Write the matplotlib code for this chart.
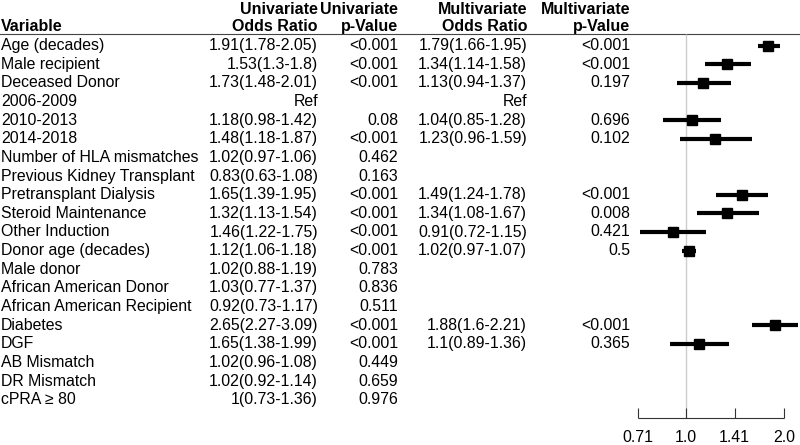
import matplotlib
matplotlib.use("Agg")
import matplotlib.pyplot as plt
import numpy as np

plt.rcParams['font.family'] = ['Liberation Sans', 'DejaVu Sans']

# table content
variables = ["Age (decades)", "Male recipient", "Deceased Donor", "2006-2009",
             "2010-2013", "2014-2018", "Number of HLA mismatches",
             "Previous Kidney Transplant", "Pretransplant Dialysis",
             "Steroid Maintenance", "Other Induction", "Donor age (decades)",
             "Male donor", "African American Donor",
             "African American Recipient", "Diabetes", "DGF", "AB Mismatch",
             "DR Mismatch", "cPRA \u2265 80"]
uni_or = ["1.91(1.78-2.05)", "1.53(1.3-1.8)", "1.73(1.48-2.01)", "Ref",
          "1.18(0.98-1.42)", "1.48(1.18-1.87)", "1.02(0.97-1.06)",
          "0.83(0.63-1.08)", "1.65(1.39-1.95)", "1.32(1.13-1.54)",
          "1.46(1.22-1.75)", "1.12(1.06-1.18)", "1.02(0.88-1.19)",
          "1.03(0.77-1.37)", "0.92(0.73-1.17)", "2.65(2.27-3.09)",
          "1.65(1.38-1.99)", "1.02(0.96-1.08)", "1.02(0.92-1.14)",
          "1(0.73-1.36)"]
uni_p = ["<0.001", "<0.001", "<0.001", "", "0.08", "<0.001", "0.462",
         "0.163", "<0.001", "<0.001", "<0.001", "<0.001", "0.783", "0.836",
         "0.511", "<0.001", "<0.001", "0.449", "0.659", "0.976"]

# multivariate estimates (nan = not in model), row 3 is the reference level
multi_est = [1.79, 1.34, 1.13, np.nan, 1.04, 1.23, np.nan, np.nan, 1.49, 1.34,
             0.91, 1.02, np.nan, np.nan, np.nan, 1.88, 1.1, np.nan, np.nan,
             np.nan]
multi_lo = [1.66, 1.14, 0.94, np.nan, 0.85, 0.96, np.nan, np.nan, 1.24, 1.08,
            0.72, 0.97, np.nan, np.nan, np.nan, 1.6, 0.89, np.nan, np.nan,
            np.nan]
multi_hi = [1.95, 1.58, 1.37, np.nan, 1.28, 1.59, np.nan, np.nan, 1.78, 1.67,
            1.15, 1.07, np.nan, np.nan, np.nan, 2.21, 1.36, np.nan, np.nan,
            np.nan]
multi_p = ["<0.001", "<0.001", "0.197", "", "0.696", "0.102", "", "",
           "<0.001", "0.008", "0.421", "0.5", "", "", "", "<0.001", "0.365",
           "", "", ""]
ref_row = 3

tick_vals = [0.71, 1.0, 1.41, 2.0]
tick_labels = ["0.71", "1.0", "1.41", "2.0"]

FS = 11.4
HFS = 11.5
W, H = 800, 445
ROW0, ROW_H = 45.5, 18.65
X_ONE, PX_PER_LOG2 = 686, 98   # where OR=1 sits, and pixels per doubling
FOREST_LEFT = 620

n = len(variables)
ys = ROW0 + ROW_H * np.arange(n)

fig = plt.figure(figsize=(W / 100, H / 100), dpi=100)
tab = fig.add_axes([0, 0, 1, 1])
tab.set_xlim(0, W)
tab.set_ylim(H, 0)
tab.axis('off')

# headers
cols = [(318, "Univariate", "Odds Ratio"), (398, "Univariate", "p-Value"),
        (527, "Multivariate", "Odds Ratio"), (630, "Multivariate", "p-Value")]
for x, l1, l2 in cols:
    tab.text(x, 14, l1, ha='right', va='baseline', fontsize=HFS,
             fontweight='bold')
    tab.text(x, 31, l2, ha='right', va='baseline', fontsize=HFS,
             fontweight='bold')
tab.text(1, 31, "Variable", ha='left', va='baseline', fontsize=HFS,
         fontweight='bold')
tab.axhline(33.5, color='#444444', lw=0.8)

for i in range(n):
    y = ys[i]
    tab.text(1, y, variables[i], ha='left', va='center', fontsize=FS)
    tab.text(318, y, uni_or[i], ha='right', va='center', fontsize=FS)
    tab.text(398, y, uni_p[i], ha='right', va='center', fontsize=FS)
    if i == ref_row:
        mtxt = "Ref"
    elif np.isnan(multi_est[i]):
        mtxt = ""
    else:
        mtxt = "%g(%g-%g)" % (multi_est[i], multi_lo[i], multi_hi[i])
    tab.text(527, y, mtxt, ha='right', va='center', fontsize=FS)
    tab.text(630, y, multi_p[i], ha='right', va='center', fontsize=FS)

# forest panel on a log2 axis
fa = fig.add_axes([FOREST_LEFT / W, 0, (W - FOREST_LEFT) / W, 1])
fa.patch.set_alpha(0)
fa.set_xscale('log', base=2)
fa.set_xlim(2 ** ((FOREST_LEFT - X_ONE) / PX_PER_LOG2),
            2 ** ((W - X_ONE) / PX_PER_LOG2))
fa.set_ylim(H, 0)
fa.axis('off')

fa.vlines(1.0, 33.5, 418, color='#cccccc', lw=1)
est = np.array(multi_est)
ok = ~np.isnan(est)
fa.hlines(ys[ok], np.array(multi_lo)[ok], np.array(multi_hi)[ok],
          color='black', lw=3)
fa.plot(est[ok], ys[ok], 's', color='black', ms=7.5)

fa.hlines(418, tick_vals[0], tick_vals[-1], color='#333333', lw=0.8)
fa.vlines(tick_vals, 408, 418, color='#333333', lw=0.8)
for v, lab in zip(tick_vals, tick_labels):
    fa.text(v, 437, lab, ha='center', va='center', fontsize=FS)

fig.savefig("out.png", dpi=100)
